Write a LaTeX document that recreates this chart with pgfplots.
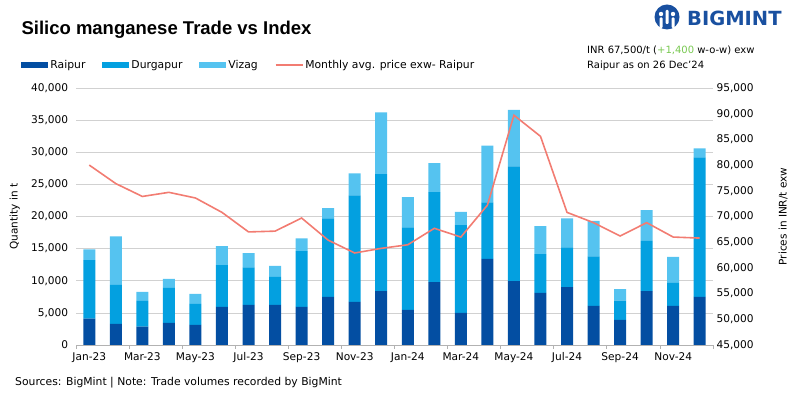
\documentclass[border=0pt]{standalone}
\usepackage{pgfplots}
\pgfplotsset{compat=1.18}
\usepackage{pgfplotstable}
\usepackage{fontspec}
\setmainfont{DejaVu Sans}
\newfontfamily\titlefont{Liberation Sans}
\definecolor{raipur}{RGB}{3,78,162}
\definecolor{durgapur}{RGB}{3,160,224}
\definecolor{vizag}{RGB}{85,195,240}
\definecolor{priceline}{RGB}{242,124,114}
\definecolor{logoblue}{RGB}{25,80,160}
\definecolor{greentxt}{RGB}{120,200,80}

\pgfplotstableread{
x r d v p
0 4100 9100 1700 80000
1 3300 6050 7550 76400
2 2850 4020 1390 73900
3 3450 5450 1400 74700
4 3150 3250 1550 73600
5 5950 6500 2950 70800
6 6250 5850 2200 67000
7 6250 4350 1700 67150
8 5950 8650 2000 69700
9 7500 12200 1600 65400
10 6700 16600 3400 62900
11 8400 18200 9600 63800
12 5450 12850 4700 64500
13 9800 14000 4500 67700
14 5000 13650 2050 66000
15 13400 8800 8850 72200
16 9950 17850 8800 89700
17 8100 6050 4350 85600
18 9000 6200 4500 70800
19 6100 7700 5500 68800
20 3900 3000 1800 66200
21 8400 7800 4800 68800
22 6100 3560 4040 66000
23 7500 21700 1400 65800
}\data

\begin{document}
\begin{tikzpicture}
\path[use as bounding box] (0pt,0pt) rectangle (800pt,398pt);
\pgfplotsset{
  every axis/.append style={font=\fontsize{10.5}{12}\selectfont},
  every tick label/.append style={font=\fontsize{10.6}{12}\selectfont},
}
\begin{axis}[
  at={(76pt,53pt)}, anchor=south west,
  scale only axis, width=637pt, height=257pt,
  xmin=-0.5, xmax=23.5,
  ymin=0, ymax=40000,
  ybar stacked, bar width=12pt,
  axis x line*=bottom, axis y line*=left,
  y axis line style={draw=none},
  x axis line style={draw=black!30, line width=0.8pt},
  ytick={0,5000,...,40000},
  ytick style={draw=none},
  ymajorgrids, grid style={black!18, line width=0.7pt},
  xtick={0,2,...,22},
  xticklabels={Jan-23,Mar-23,May-23,Jul-23,Sep-23,Nov-23,Jan-24,Mar-24,May-24,Jul-24,Sep-24,Nov-24},
  major x tick style={draw=none},
  minor xtick={-0.5,1.5,...,23.5},
  minor x tick style={draw=black!30, line width=0.8pt},
  minor tick length=4pt,
  tick align=outside,
  scaled y ticks=false,
  yticklabel style={/pgf/number format/.cd, fixed, 1000 sep={,}, assume math mode=true},
  every axis y label/.style={at={(axis description cs:-0.096,0.5)}, anchor=center, rotate=90},
  ylabel={Quantity in t},
  legend columns=4,
  legend style={at={(axis description cs:-0.086,1.089)}, anchor=west, draw=none, fill=none,
    font=\fontsize{10.8}{12}\selectfont,
    /tikz/every even column/.append style={column sep=15pt},
    inner sep=0pt},
  area legend,
]
\addplot[draw=none, fill=raipur, legend image code/.code={\fill[raipur] (0pt,-3pt) rectangle (27pt,3pt);}] table[x=x,y=r]{\data};
\addplot[draw=none, fill=durgapur, legend image code/.code={\fill[durgapur] (0pt,-3pt) rectangle (27pt,3pt);}] table[x=x,y=d]{\data};
\addplot[draw=none, fill=vizag, legend image code/.code={\fill[vizag] (0pt,-3pt) rectangle (27pt,3pt);}] table[x=x,y=v]{\data};
\addlegendimage{legend image code/.code={\draw[priceline, line width=1.5pt] (0pt,0pt) -- (27pt,0pt);}}
\legend{Raipur,Durgapur,Vizag,Monthly avg. price exw- Raipur}
\end{axis}
\begin{axis}[
  at={(76pt,53pt)}, anchor=south west,
  scale only axis, width=637pt, height=257pt,
  xmin=-0.5, xmax=23.5,
  ymin=45000, ymax=95000,
  hide x axis,
  axis y line*=right,
  y axis line style={draw=none},
  ytick={45000,50000,...,95000},
  ytick style={draw=none},
  scaled y ticks=false,
  yticklabel style={/pgf/number format/.cd, fixed, 1000 sep={,}, assume math mode=true},
  every axis y label/.style={at={(axis description cs:1.11,0.5)}, anchor=center, rotate=90},
  ylabel={Prices in INR/t exw},
]
\addplot[priceline, line width=1.6pt, mark=none] table[x=x,y=p]{\data};
\end{axis}
% titles and notes
\node[anchor=west, font=\titlefont\fontsize{18.5}{20}\selectfont\bfseries] at (18pt,368pt) {Silico manganese Trade vs Index};
\node[anchor=base west, font=\fontsize{10}{12}\selectfont, inner sep=0pt] at (587pt,344pt) {INR 67,500/t ({\color{greentxt}+1,400} w-o-w) exw};
\node[anchor=base west, font=\fontsize{10}{12}\selectfont, inner sep=0pt] at (587pt,329pt) {Raipur as on 26 Dec'24};
\node[anchor=west, font=\fontsize{10.8}{12}\selectfont, inner sep=0pt] at (15pt,15pt) {Sources: BigMint | Note: Trade volumes recorded by BigMint};
% logo
\fill[logoblue] (667pt,381pt) circle (12.5pt);
\fill[white] (661pt,384pt) circle (2.2pt);
\fill[white] (673pt,384pt) circle (2.2pt);
\fill[white, rounded corners=1pt] (659.5pt,370pt) rectangle (662.5pt,380.5pt);
\fill[white, rounded corners=1pt] (671.5pt,370pt) rectangle (674.5pt,380.5pt);
\fill[white, rounded corners=1pt] (665.5pt,374pt) rectangle (668.5pt,388pt);
\node[anchor=west, font=\fontsize{19.5}{21}\selectfont\bfseries, text=logoblue, inner sep=0pt] at (687pt,380pt) {BIGMINT};
\end{tikzpicture}
\end{document}
